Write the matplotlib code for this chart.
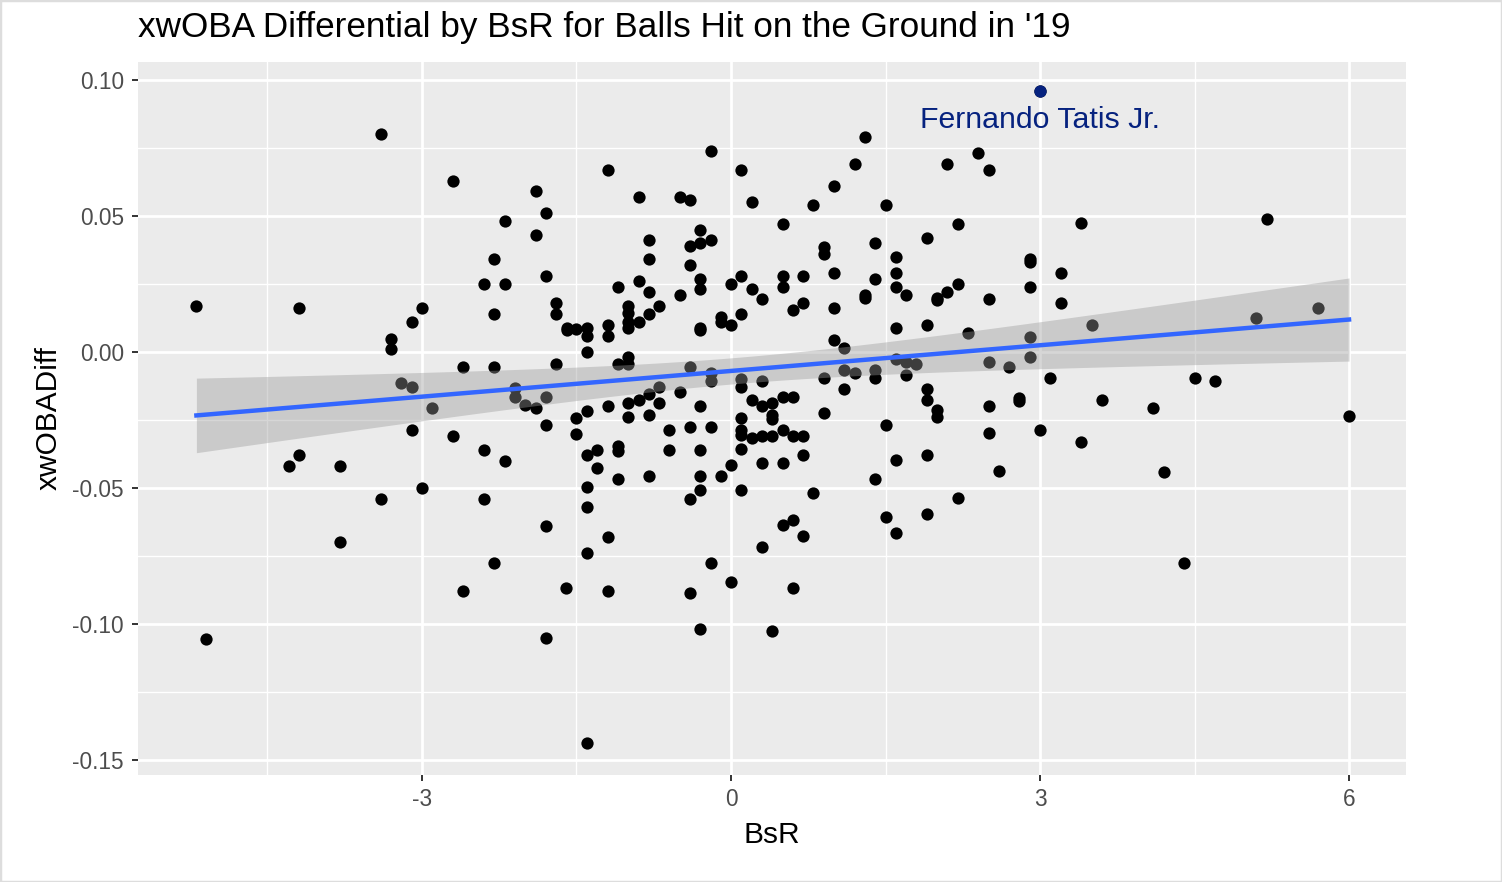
import numpy as np
import matplotlib
matplotlib.use('Agg')
import matplotlib.pyplot as plt
from matplotlib.patches import Rectangle

plt.rcParams['font.family'] = ['Liberation Sans', 'DejaVu Sans']

# BsR / xwOBADiff
bsr = [
    -3.40, -2.70, -5.19, -4.19, -3.00, -3.10, -3.30, -3.30, -2.60, -3.20,
    -3.10, -2.90, -3.10, -2.70, -4.19, -4.29, -3.80, -3.00, -3.40, -3.80,
    -2.60, -5.10,
    -1.19, -0.19, -1.89, -1.80, -2.19, -1.89, -0.89, -0.50, -0.40, -0.80,
    -0.80, -0.30, -0.40, -0.30, -0.19, -0.40, -0.30, -0.30, -2.30, -2.40,
    -2.19, -1.80, -2.30, -1.70, -1.70, -1.59, -1.59, -1.50, -1.40, -1.40,
    -1.40, -1.19, -1.19, -1.10, -0.89, -0.80, -0.70, -1.00, -1.00, -0.80,
    -1.00, -1.00, -0.89, -0.50, -0.30, -0.30, -0.10, -0.10, 0.00, 0.00,
    -2.30, -1.70, -1.10, -1.00, -1.00, -0.40, -0.19, -0.19, -2.10, -2.10,
    -1.80, -2.00, -1.89, -0.70, -0.80, -0.89, -1.00, -0.70, -1.19, -0.50,
    -0.30, -1.40, -1.50, -1.00, -0.80, -1.80,
    -1.50, -0.60, -0.40, -0.19, -2.40, -2.19, -1.40, -1.30, -1.10, -1.10,
    -0.60, -0.30, -1.30, -1.10, -0.80, -0.30, -0.10, 0.00, -1.40, -2.40,
    -1.40, -0.40, -0.30, -1.80, -1.19, -1.40, -2.30, -0.19, -1.60, -1.19,
    -0.40, 0.00, -0.30, -1.80, -1.40,
    0.10, 0.20, 0.50, 0.80, 1.00, 1.20, 1.30, 1.50, 2.10, 2.40,
    2.50, 2.20, 1.90, 1.40, 0.90, 0.90, 1.60, 1.60, 1.60, 1.70,
    1.40, 1.00, 0.70, 0.50, 0.50, 0.10, 0.20, 0.30, 0.70, 0.60,
    0.10, 1.00, 1.30, 1.30, 2.00, 2.00, 2.10, 2.20, 2.50, 1.60,
    1.90, 2.30, 1.00, 1.10, 1.60, 1.70, 1.80, 2.50, 1.10, 1.20,
    1.40, 1.40, 1.70, 0.90, 0.10, 0.10, 0.30, 1.10, 1.90, 1.90,
    0.20, 0.30, 0.40, 0.50, 0.60, 0.40, 0.90, 2.00, 2.00, 2.50,
    0.10,
    0.40, 1.50, 2.50, 0.10, 0.10, 0.20, 0.30, 0.40, 0.50, 0.60,
    0.70, 0.10, 0.70, 0.30, 0.50, 1.60, 1.90, 1.40, 2.60, 0.10,
    0.80, 2.20, 1.50, 1.90, 1.60, 0.50, 0.60, 0.70, 0.30, 0.60,
    0.40,
    3.00, 3.40, 2.90, 2.90, 3.20, 2.90, 3.20, 3.50, 2.90, 2.90,
    2.70, 3.10, 2.80, 2.80, 3.60, 4.10, 4.50, 4.70, 5.10, 5.70,
    5.20, 6.00, 3.00, 3.40, 4.20, 4.40,
]
xwoba_diff = [
    0.080, 0.063, 0.017, 0.016, 0.016, 0.011, 0.0048, 0.001, -0.0055, -0.0114,
    -0.0128, -0.0206, -0.0287, -0.031, -0.038, -0.042, -0.042, -0.050, -0.054, -0.070,
    -0.088, -0.1055,
    0.067, 0.074, 0.059, 0.051, 0.048, 0.043, 0.057, 0.057, 0.056, 0.041,
    0.034, 0.045, 0.039, 0.040, 0.041, 0.032, 0.027, 0.023, 0.034, 0.025,
    0.025, 0.028, 0.014, 0.018, 0.014, 0.009, 0.008, 0.0085, 0.009, 0.006,
    0.000, 0.010, 0.006, 0.024, 0.026, 0.022, 0.017, 0.017, 0.0145, 0.014,
    0.011, 0.009, 0.011, 0.021, 0.009, 0.008, 0.013, 0.011, 0.010, 0.025,
    -0.0055, -0.0045, -0.0045, -0.002, -0.0045, -0.0055, -0.0078, -0.0107, -0.0133, -0.0165,
    -0.0165, -0.0195, -0.0206, -0.0128, -0.0155, -0.0176, -0.0186, -0.0186, -0.0199, -0.0147,
    -0.0199, -0.0217, -0.0243, -0.024, -0.023, -0.027,
    -0.030, -0.0287, -0.0276, -0.0276, -0.036, -0.040, -0.038, -0.036, -0.0345, -0.0365,
    -0.036, -0.036, -0.0427, -0.0467, -0.0456, -0.0456, -0.0456, -0.0416, -0.0496, -0.054,
    -0.057, -0.054, -0.0507, -0.064, -0.068, -0.074, -0.0776, -0.0776, -0.0868, -0.088,
    -0.0887, -0.0847, -0.102, -0.105, -0.1438,
    0.067, 0.055, 0.047, 0.054, 0.061, 0.069, 0.079, 0.054, 0.069, 0.073,
    0.067, 0.047, 0.042, 0.040, 0.0385, 0.036, 0.035, 0.029, 0.024, 0.021,
    0.027, 0.029, 0.028, 0.028, 0.024, 0.028, 0.023, 0.0195, 0.018, 0.0155,
    0.014, 0.016, 0.021, 0.020, 0.020, 0.019, 0.022, 0.025, 0.0195, 0.009,
    0.010, 0.007, 0.0044, 0.0014, -0.0026, -0.0037, -0.0044, -0.0037, -0.0066, -0.0078,
    -0.0066, -0.0096, -0.0085, -0.0096, -0.010, -0.0128, -0.0107, -0.0136, -0.0136, -0.0176,
    -0.0176, -0.0199, -0.0188, -0.0165, -0.0165, -0.023, -0.0224, -0.0213, -0.0238, -0.0199,
    -0.0243,
    -0.0246, -0.0268, -0.0298, -0.0287, -0.0305, -0.0316, -0.0309, -0.0309, -0.0287, -0.0309,
    -0.0309, -0.0357, -0.0379, -0.0408, -0.0408, -0.0397, -0.0379, -0.0467, -0.0438, -0.0507,
    -0.0518, -0.0537, -0.0607, -0.0596, -0.0665, -0.0636, -0.0618, -0.0676, -0.0717, -0.0868,
    -0.1026,
    0.096, 0.0474, 0.034, 0.033, 0.029, 0.024, 0.018, 0.010, 0.0055, -0.002,
    -0.0055, -0.0096, -0.017, -0.018, -0.0176, -0.0206, -0.0096, -0.0107, 0.0125, 0.016,
    0.049, -0.0235, -0.0287, -0.033, -0.044, -0.0776,
]
highlight_name = 'Fernando Tatis Jr.'
highlight_x = 3.00
highlight_y = 0.096

x = np.array(bsr)
y = np.array(xwoba_diff)

# lm fit + 95% confidence band (like geom_smooth(method='lm'))
n = len(x)
b1, b0 = np.polyfit(x, y, 1)
resid = y - (b0 + b1 * x)
s = np.sqrt(np.sum(resid ** 2) / (n - 2))
xg = np.linspace(x.min(), x.max(), 80)
yg = b0 + b1 * xg
se = s * np.sqrt(1 / n + (xg - x.mean()) ** 2 / np.sum((x - x.mean()) ** 2))
tval = 1.968

fig = plt.figure(figsize=(15.02, 8.82), dpi=100)
ax = fig.add_axes([138 / 1502, 1 - 775 / 882, 1268 / 1502, 713 / 882])
ax.set_facecolor('#EBEBEB')

ax.scatter(x, y, s=78, color='black', linewidths=0, zorder=3)
ax.fill_between(xg, yg - tval * se, yg + tval * se, color='#999999', alpha=0.4,
                linewidth=0, zorder=4)
ax.plot(xg, yg, color='#3366FF', lw=3.2, zorder=5)
ax.scatter([highlight_x], [highlight_y], s=78, color='#06227F', linewidths=0, zorder=6)
ax.text(highlight_x, 0.0853, highlight_name, color='#06227F', fontsize=21.8,
        ha='center', va='center', zorder=6)

ax.set_xlim(-5.757, 6.553)
ax.set_ylim(-0.1555, 0.1066)
ax.set_xticks([-3, 0, 3, 6])
ax.set_xticklabels(['-3', '0', '3', '6'])
ax.set_xticks([-4.5, -1.5, 1.5, 4.5], minor=True)
ax.set_yticks([-0.15, -0.10, -0.05, 0.00, 0.05, 0.10])
ax.set_yticklabels(['-0.15', '-0.10', '-0.05', '0.00', '0.05', '0.10'])
ax.set_yticks([-0.125, -0.075, -0.025, 0.025, 0.075], minor=True)
ax.grid(which='major', color='white', lw=2.0, zorder=0)
ax.grid(which='minor', color='white', lw=1.0, zorder=0)
ax.set_axisbelow(True)
for sp in ax.spines.values():
    sp.set_visible(False)
ax.tick_params(which='major', length=4.5, width=1.4, color='#333333',
               labelcolor='#4D4D4D', labelsize=16.3)
ax.tick_params(axis='y', pad=5.5)
ax.tick_params(axis='x', pad=5)
ax.tick_params(which='minor', length=0)

ax.set_xlabel('BsR', fontsize=21.5, labelpad=7)
ax.set_ylabel('xwOBADiff', fontsize=21.5, labelpad=7)
fig.text(138 / 1502, 1 - 37 / 882, "xwOBA Differential by BsR for Balls Hit on the Ground in '19",
         fontsize=25.3, ha='left', va='baseline')

fig.patches.append(Rectangle((0, 0), 1, 1, transform=fig.transFigure, fill=False,
                             edgecolor='#DDDDDD', lw=2.5))

plt.savefig('out.png', dpi=100)
